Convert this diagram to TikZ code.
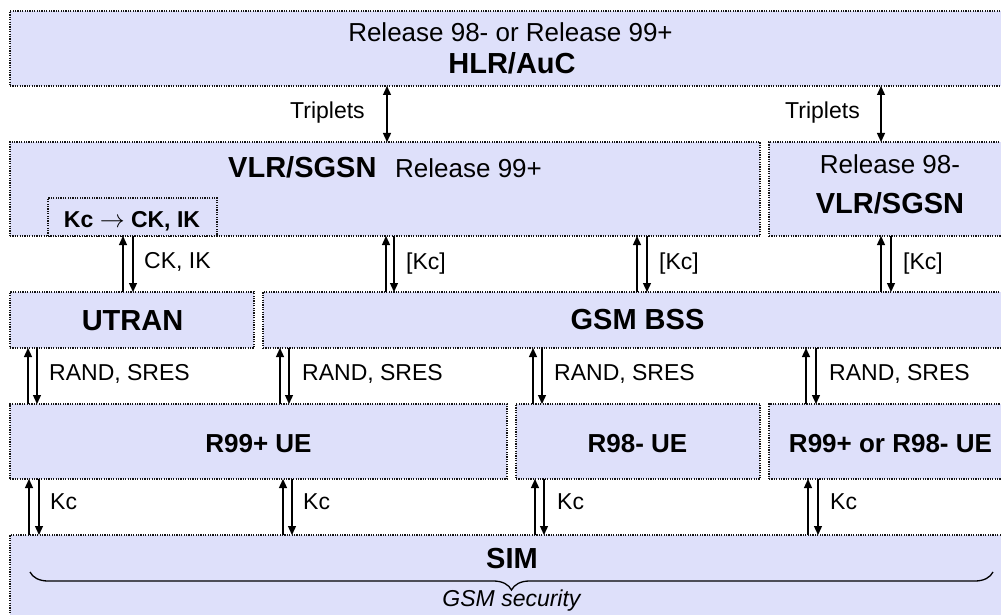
\documentclass[tikz,border=0pt]{standalone}
\usepackage{fontspec}
\setmainfont{Liberation Sans}
\usetikzlibrary{arrows.meta,decorations.pathreplacing}
\definecolor{boxfill}{RGB}{222,224,250}
\definecolor{boxline}{RGB}{20,20,20}
\tikzset{
  box/.style={draw=boxline, fill=boxfill, line width=1.2pt, dash pattern=on 1.2pt off 1.2pt, inner sep=0pt, outer sep=0pt},
  lbl/.style={anchor=base west, inner sep=0pt, font=\fontsize{23}{27}\selectfont},
  rel/.style={anchor=base, inner sep=0pt, font=\fontsize{26}{30}\selectfont},
  big/.style={anchor=base, inner sep=0pt, font=\fontsize{29}{33}\selectfont\bfseries},
  uename/.style={anchor=base, inner sep=0pt, font=\fontsize{26}{30}\selectfont\bfseries},
  sig/.style={line width=1.3pt, -{Triangle[length=9pt,width=8pt]}},
  both/.style={line width=1.3pt, {Triangle[length=9pt,width=8pt]}-{Triangle[length=9pt,width=8pt]}},
  brc/.style={line width=1.3pt, decorate, decoration={brace, mirror, amplitude=18pt}},
}
\newcommand\sigpair[5]{%
  \coordinate (#5u) at (#1,0);
  \coordinate (#5d) at (#2,0);
  \draw[sig] (#5u |- #4.north) -- (#5u |- #3.south);
  \draw[sig] (#5d |- #3.south) -- (#5d |- #4.north);
}
\begin{document}
\begin{tikzpicture}[x=1pt, y=-1pt]
\useasboundingbox (0,0) rectangle (1001,615);
\clip (0,0) rectangle (1001,615);

% boxes
\node[box, minimum width=1000pt, minimum height=75pt] (hlr) at (510,48.5) {};
\node[box, minimum width=750pt, minimum height=94pt] (vlr99) at (385,189) {};
\node[box, minimum width=169pt, minimum height=38pt] (kcbox) at (132.5,217) {};
\node[box, minimum width=241pt, minimum height=94pt] (vlr98) at (889.5,189) {};
\node[box, minimum width=244pt, minimum height=56pt] (utran) at (132,320) {};
\node[box, minimum width=747pt, minimum height=56pt] (gsmbss) at (636.5,320) {};
\node[box, minimum width=497pt, minimum height=75pt] (ue99) at (258.5,441.5) {};
\node[box, minimum width=244pt, minimum height=75pt] (ue98) at (638,441.5) {};
\node[box, minimum width=241pt, minimum height=75pt] (ueboth) at (889.5,441.5) {};
\node[box, minimum width=1000pt, minimum height=90pt] (sim) at (510,580) {};

% triplets
\coordinate (t1) at (387,0);
\coordinate (t2) at (881,0);
\draw[both] (t1 |- hlr.south) -- (t1 |- vlr99.north);
\draw[both] (t2 |- hlr.south) -- (t2 |- vlr98.north);

% row 2
\sigpair{123}{133}{kcbox}{utran}{a1}
\sigpair{386}{394}{vlr99}{gsmbss}{a2}
\sigpair{637}{647}{vlr99}{gsmbss}{a3}
\sigpair{881}{891}{vlr98}{gsmbss}{a4}
% row 3
\sigpair{28}{37}{utran}{ue99}{b1}
\sigpair{280}{289}{gsmbss}{ue99}{b2}
\sigpair{533}{542}{gsmbss}{ue98}{b3}
\sigpair{806}{816}{gsmbss}{ueboth}{b4}
% row 4
\sigpair{29}{39}{ue99}{sim}{c1}
\sigpair{283}{292}{ue99}{sim}{c2}
\sigpair{535}{544}{ue98}{sim}{c3}
\sigpair{808}{818}{ueboth}{sim}{c4}

% brace
\coordinate (bl) at (30,572);
\coordinate (br) at (993,572);
\draw[brc] (bl) -- (br);

% texts
\node[rel] (hlrrel) at (510.5,42) {Release 98- or Release 99+};
\node[big] (hlrname) at (512,74) {HLR/AuC};
\node[big, anchor=base west] (vlrname) at (228,177) {VLR/SGSN};
\node[rel, anchor=base west] (vlrrel) at (395,177) {Release 99+};
\node[anchor=base, inner sep=0pt, font=\fontsize{23}{27}\selectfont\bfseries] (kctext) at (132,227) {Kc $\rightarrow$ CK, IK};
\node[rel] (v98rel) at (890,173) {Release 98-};
\node[big] (v98name) at (890,213) {VLR/SGSN};
\node[big] (utranname) at (132.5,330) {UTRAN};
\node[big] (gsmname) at (637.5,329) {GSM BSS};
\node[uename] (ue99name) at (258.5,452) {R99+ UE};
\node[uename] (ue98name) at (637.5,452) {R98- UE};
\node[uename] (uebothname) at (890.5,452) {R99+ or R98- UE};
\node[big] (simname) at (512,568) {SIM};
\node[anchor=base, inner sep=0pt, font=\fontsize{23}{27}\selectfont\itshape] (gsmsec) at (511.5,606) {GSM security};

% labels
\node[lbl] (lt1) at (290,119) {Triplets};
\node[lbl] (lt2) at (785,119) {Triplets};
\node[lbl] (la1) at (144,268) {CK, IK};
\node[lbl] (la2) at (406,269) {[Kc]};
\node[lbl] (la3) at (659,269) {[Kc]};
\node[lbl] (la4) at (903,269) {[Kc]};
\node[lbl] (lb1) at (49,380) {RAND, SRES};
\node[lbl] (lb2) at (302,380) {RAND, SRES};
\node[lbl] (lb3) at (554,380) {RAND, SRES};
\node[lbl] (lb4) at (829,380) {RAND, SRES};
\node[lbl] (lc1) at (50,509) {Kc};
\node[lbl] (lc2) at (303,509) {Kc};
\node[lbl] (lc3) at (557,509) {Kc};
\node[lbl] (lc4) at (830,509) {Kc};
\end{tikzpicture}
\end{document}
